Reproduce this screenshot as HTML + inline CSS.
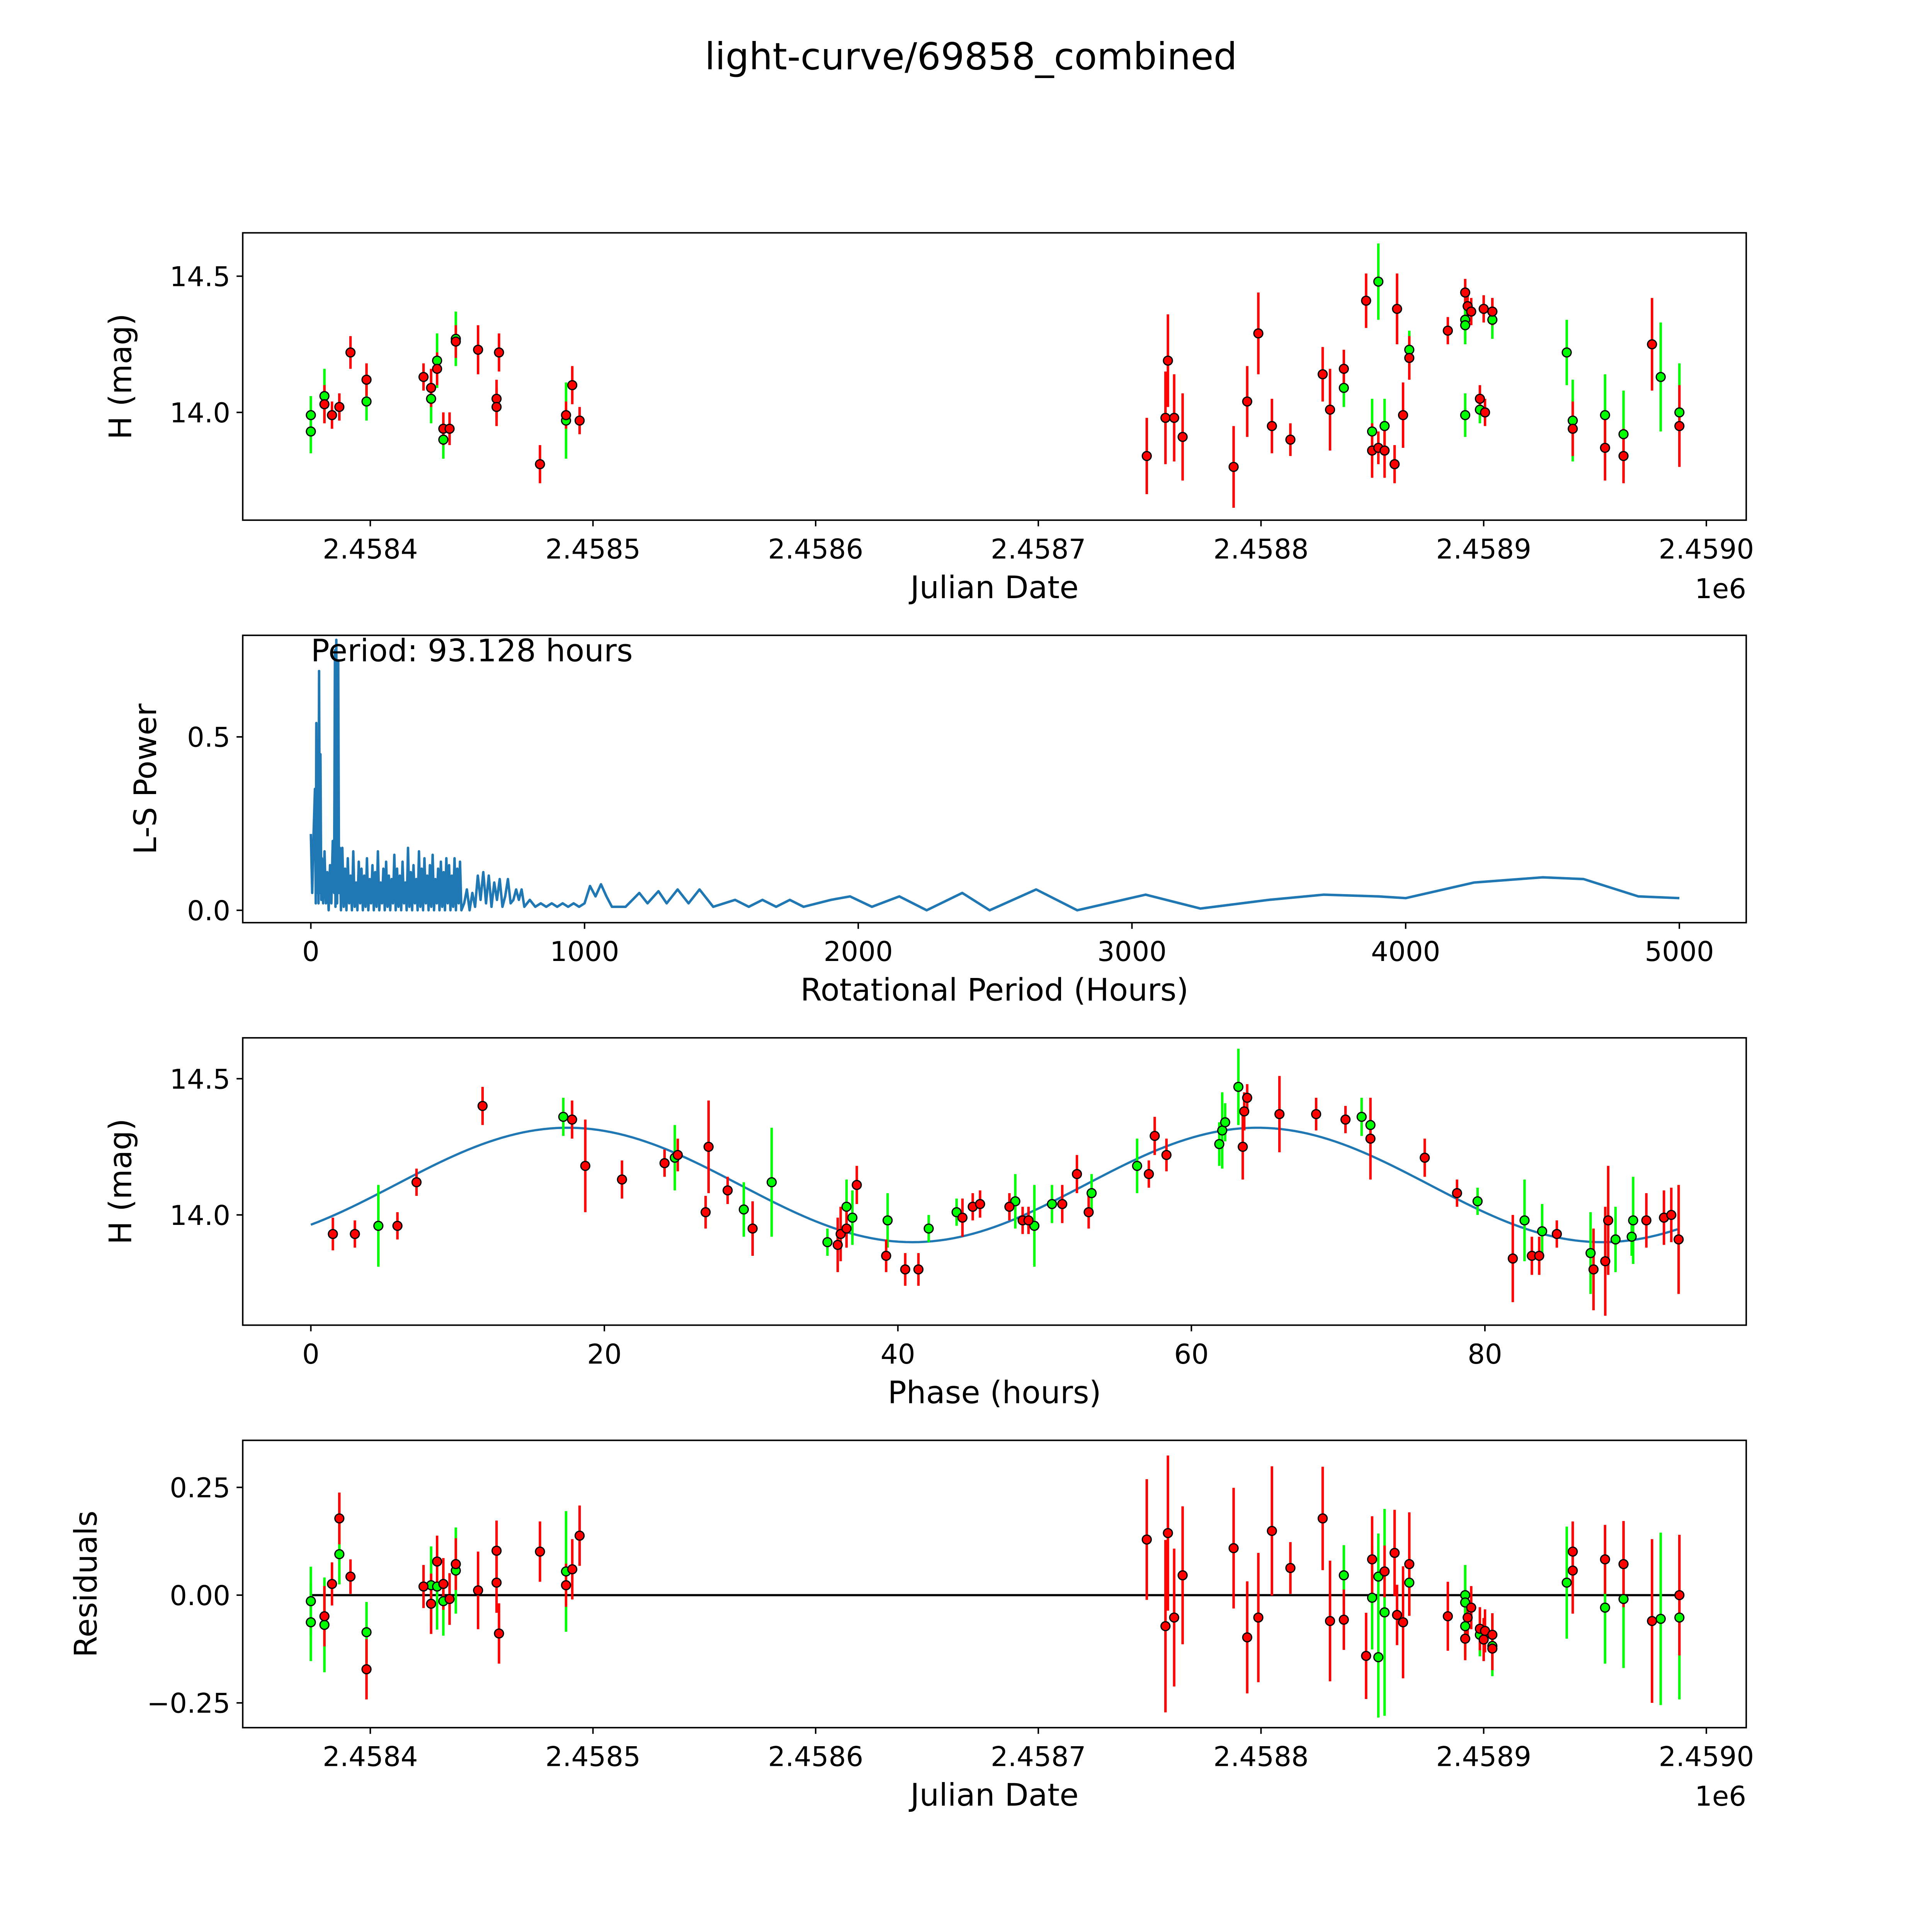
<!DOCTYPE html>
<html><head><meta charset="utf-8">
<style>
html,body{margin:0;padding:0;background:#fff;overflow:hidden;width:100%;height:100%;}
svg{display:block;width:100vw;height:100vh;}
text{font-family:"DejaVu Sans","Liberation Sans",sans-serif;fill:#000;}
</style></head>
<body>
<svg id="fig" xmlns="http://www.w3.org/2000/svg" viewBox="0 0 1560 1560" preserveAspectRatio="xMidYMid meet">
<rect width="1560" height="1560" fill="#fff"/>
<text x="784" y="56" font-size="30" text-anchor="middle">light-curve/69858_combined</text>
</svg>
<script>
// ---------- Panel 1: light curve ----------
const lcJd = [2458373.3,2458373.3,2458379.4,2458398.3,2458427.3,2458430.0,2458432.8,2458487.9,2458837.2,2458849.9,2458852.7,2458855.5,2458866.6,2458891.7,2458891.7,2458891.7,2458898.3,2458903.9,2458937.3,2458940.0,2458954.5,2458962.8,2458979.5,2458987.9,2458438.4,
2458379.4,2458382.8,2458386.1,2458391.1,2458398.3,2458423.9,2458427.3,2458430.0,2458432.8,2458435.6,2458438.4,2458448.4,2458456.7,2458456.7,2458457.8,2458476.2,2458487.9,2458490.7,2458494.0,2458748.7,2458757.1,2458758.2,2458761.0,2458764.8,2458787.7,2458793.8,2458798.8,2458804.9,2458813.2,2458827.7,2458831.0,2458837.2,2458847.2,2458849.9,2458852.7,2458855.5,2458860.0,2458861.1,2458863.8,2458866.6,2458883.9,2458891.7,2458892.8,2458894.4,2458898.3,2458900.0,2458900.6,2458903.9,2458903.9,2458940.0,2458954.5,2458962.8,2458975.6,2458987.9];
const lcMag = [13.99,13.93,14.06,14.04,14.05,14.19,13.90,13.97,14.09,13.93,14.48,13.95,14.23,14.34,14.32,13.99,14.01,14.34,14.22,13.97,13.99,13.92,14.13,14.00,14.27,
14.03,13.99,14.02,14.22,14.12,14.13,14.09,14.16,13.94,13.94,14.26,14.23,14.05,14.02,14.22,13.81,13.99,14.10,13.97,13.84,13.98,14.19,13.98,13.91,13.80,14.04,14.29,13.95,13.90,14.14,14.01,14.16,14.41,13.86,13.87,13.86,13.81,14.38,13.99,14.20,14.30,14.44,14.39,14.37,14.05,14.38,14.00,14.37,14.37,13.94,13.87,13.84,14.25,13.95];
const lcErr = [0.07,0.08,0.1,0.07,0.09,0.1,0.07,0.14,0.07,0.12,0.14,0.1,0.07,0.07,0.07,0.08,0.05,0.07,0.12,0.15,0.15,0.16,0.2,0.18,0.1,
0.07,0.05,0.05,0.06,0.06,0.05,0.07,0.06,0.06,0.06,0.06,0.09,0.07,0.07,0.07,0.07,0.05,0.07,0.05,0.14,0.17,0.17,0.16,0.16,0.15,0.13,0.15,0.1,0.06,0.1,0.15,0.07,0.1,0.1,0.06,0.1,0.07,0.13,0.12,0.08,0.05,0.05,0.05,0.05,0.05,0.05,0.05,0.05,0.05,0.1,0.12,0.1,0.17,0.15];
const lcColor = ['g','g','g','g','g','g','g','g','g','g','g','g','g','g','g','g','g','g','g','g','g','g','g','g','g',
'r','r','r','r','r','r','r','r','r','r','r','r','r','r','r','r','r','r','r','r','r','r','r','r','r','r','r','r','r','r','r','r','r','r','r','r','r','r','r','r','r','r','r','r','r','r','r','r','r','r','r','r','r','r'];
const jdTicks = [2458400,2458500,2458600,2458700,2458800,2458900,2459000];
const magTicks = [14.0,14.5];
// ---------- Panel 2: periodogram ----------
const lsPeriod = [0,5,10,15,18,20,23,25,28,30,33,35,38,40,45,50,55,60,65,70,75,80,85,88,90,93,96,100,103,106,
110,115,120,125,130,135,140,145,150,155,160,165,170,175,180,185,190,195,200,205,210,215,220,225,230,235,240,245,250,255,260,265,270,275,280,285,290,295,300,305,310,315,320,325,330,335,340,345,350,355,360,365,370,375,380,385,390,395,400,405,410,415,420,425,430,435,440,445,450,455,460,465,470,475,480,485,490,495,500,505,510,515,520,525,530,535,540,545,550,
560,570,580,590,600,610,620,630,640,650,660,670,680,690,700,710,720,730,740,750,760,770,780,790,800,820,840,860,880,900,920,940,960,980,1000,1020,1040,1060,1080,1100,1150,1200,1230,1270,1300,1340,1380,1420,1470,1550,1600,1650,1700,1750,1800,1900,1970,2050,2150,2250,2380,2480,2650,2800,3050,3250,3500,3700,3900,4000,4250,4500,4650,4850,5000];
const lsPower = [0.22,0.05,0.22,0.35,0.02,0.54,0.05,0.35,0.02,0.69,0.05,0.45,0.03,0.15,0.02,0.17,0.02,0.11,0.0,0.13,0.02,0.20,0.05,0.75,0.01,0.78,0.02,0.72,0.05,0.18,
0.0,0.18,0.01,0.12,0.0,0.15,0.02,0.10,0.0,0.17,0.01,0.08,0.0,0.14,0.02,0.12,0.0,0.10,0.01,0.15,0.0,0.09,0.02,0.13,0.0,0.11,0.01,0.17,0.0,0.08,0.02,0.12,0.0,0.14,0.01,0.10,0.0,0.09,0.02,0.16,0.0,0.12,0.01,0.10,0.0,0.14,0.02,0.08,0.0,0.18,0.01,0.11,0.0,0.13,0.02,0.09,0.0,0.17,0.01,0.12,0.0,0.15,0.02,0.10,0.0,0.13,0.01,0.16,0.0,0.09,0.02,0.12,0.0,0.14,0.01,0.11,0.0,0.15,0.02,0.13,0.0,0.10,0.01,0.15,0.0,0.12,0.02,0.14,0.0,
0.02,0.06,0.0,0.05,0.01,0.10,0.03,0.11,0.02,0.10,0.01,0.08,0.03,0.09,0.01,0.04,0.09,0.02,0.03,0.06,0.03,0.06,0.01,0.02,0.03,0.01,0.02,0.01,0.02,0.01,0.02,0.01,0.02,0.01,0.02,0.07,0.04,0.075,0.04,0.01,0.01,0.05,0.02,0.055,0.02,0.06,0.02,0.06,0.01,0.03,0.01,0.03,0.01,0.03,0.01,0.03,0.04,0.01,0.04,0.0,0.05,0.0,0.06,0.0,0.045,0.005,0.03,0.045,0.04,0.035,0.08,0.095,0.09,0.04,0.035];
const periodTicks = [0,1000,2000,3000,4000,5000];
const powerTicks = [0.0,0.5];
const periodLabel = "Period: 93.128 hours";
// ---------- Panel 3: phased ----------
const phPhase = [17.2,24.8,4.6,29.5,31.4,35.2,36.5,36.9,39.3,42.1,44.0,48.0,49.3,50.5,53.2,56.3,61.9,62.1,62.3,63.2,71.6,72.2,79.5,82.7,83.9,87.2,88.9,90.0,90.1,
1.5,3.0,5.9,7.2,11.7,17.8,18.7,21.2,24.1,25.0,26.9,27.1,28.4,30.1,35.9,36.1,36.5,37.2,39.2,40.5,41.4,44.4,45.1,45.6,47.6,48.5,48.9,51.2,52.2,53.0,57.1,57.5,58.3,63.5,63.6,63.8,66.0,68.5,70.5,72.2,75.9,78.1,81.9,83.2,83.7,84.9,87.4,88.2,88.4,91.0,92.2,92.7,93.2];
const phMag = [14.36,14.21,13.96,14.02,14.12,13.90,14.03,13.99,13.98,13.95,14.01,14.05,13.96,14.04,14.08,14.18,14.26,14.31,14.34,14.47,14.36,14.33,14.05,13.98,13.94,13.86,13.91,13.92,13.98,
13.93,13.93,13.96,14.12,14.40,14.35,14.18,14.13,14.19,14.22,14.01,14.25,14.09,13.95,13.89,13.93,13.95,14.11,13.85,13.80,13.80,13.99,14.03,14.04,14.03,13.98,13.98,14.04,14.15,14.01,14.15,14.29,14.22,14.25,14.38,14.43,14.37,14.37,14.35,14.28,14.21,14.08,13.84,13.85,13.85,13.93,13.80,13.83,13.98,13.98,13.99,14.00,13.91];
const phErr = [0.07,0.12,0.15,0.1,0.2,0.05,0.1,0.1,0.1,0.05,0.05,0.1,0.15,0.07,0.07,0.1,0.08,0.14,0.07,0.14,0.07,0.07,0.05,0.15,0.1,0.15,0.12,0.07,0.16,
0.06,0.05,0.05,0.05,0.07,0.07,0.17,0.07,0.05,0.06,0.06,0.17,0.05,0.1,0.1,0.1,0.07,0.07,0.06,0.06,0.06,0.07,0.05,0.05,0.05,0.05,0.05,0.07,0.07,0.06,0.05,0.07,0.06,0.12,0.07,0.05,0.14,0.06,0.05,0.15,0.07,0.05,0.16,0.07,0.07,0.05,0.15,0.2,0.2,0.1,0.1,0.1,0.2];
const phColor = ['g','g','g','g','g','g','g','g','g','g','g','g','g','g','g','g','g','g','g','g','g','g','g','g','g','g','g','g','g',
'r','r','r','r','r','r','r','r','r','r','r','r','r','r','r','r','r','r','r','r','r','r','r','r','r','r','r','r','r','r','r','r','r','r','r','r','r','r','r','r','r','r','r','r','r','r','r','r','r','r','r','r','r'];
const fitMean = 14.11, fitAmp = 0.21, fitPeak = 17.5, fitPeriod = 47.0;
const phaseTicks = [0,20,40,60,80];
// ---------- Panel 4: residuals ----------
const resJd = [2458373.3,2458373.3,2458379.4,2458386.1,2458398.3,2458427.3,2458430.0,2458432.8,2458438.4,2458487.9,2458837.2,2458849.9,2458852.7,2458852.7,2458855.5,2458866.6,2458891.7,2458891.7,2458891.7,2458898.3,2458903.9,2458937.3,2458954.5,2458962.8,2458979.5,2458987.9,
2458379.4,2458382.8,2458386.1,2458391.1,2458398.3,2458423.9,2458427.3,2458430.0,2458432.8,2458435.6,2458438.4,2458448.4,2458456.7,2458456.7,2458457.8,2458476.2,2458487.9,2458490.7,2458494.0,2458748.7,2458757.1,2458758.2,2458761.0,2458764.8,2458787.7,2458793.8,2458798.8,2458804.9,2458813.2,2458827.7,2458831.0,2458837.2,2458847.2,2458849.9,2458855.5,2458860.0,2458861.1,2458863.8,2458866.6,2458883.9,2458891.7,2458892.8,2458894.4,2458898.3,2458900.0,2458900.6,2458903.9,2458903.9,2458940.0,2458940.0,2458954.5,2458962.8,2458975.6,2458987.9];
const resVal = [-0.014,-0.063,-0.069,0.095,-0.086,0.023,0.020,-0.014,0.057,0.055,0.046,-0.006,-0.144,0.043,-0.040,0.029,0.0,-0.072,-0.017,-0.092,-0.118,0.029,-0.029,-0.009,-0.055,-0.052,
-0.049,0.026,0.178,0.043,-0.172,0.020,-0.020,0.078,0.026,-0.009,0.072,0.011,0.103,0.029,-0.089,0.101,0.023,0.060,0.138,0.129,-0.072,0.144,-0.052,0.046,0.109,-0.098,-0.052,0.149,0.063,0.178,-0.060,-0.057,-0.141,0.083,0.055,0.098,-0.046,-0.063,0.072,-0.049,-0.101,-0.052,-0.029,-0.078,-0.103,-0.083,-0.092,-0.124,0.101,0.057,0.083,0.072,-0.060,0.0];
const resErr = [0.08,0.09,0.11,0.07,0.07,0.09,0.1,0.08,0.1,0.14,0.07,0.12,0.14,0.1,0.24,0.07,0.07,0.07,0.08,0.05,0.07,0.13,0.13,0.16,0.2,0.19,
0.07,0.05,0.06,0.04,0.07,0.05,0.07,0.06,0.06,0.06,0.06,0.09,0.07,0.07,0.07,0.07,0.05,0.07,0.07,0.14,0.2,0.18,0.16,0.16,0.14,0.13,0.15,0.15,0.06,0.12,0.14,0.07,0.1,0.1,0.06,0.1,0.07,0.13,0.12,0.08,0.05,0.05,0.05,0.05,0.05,0.05,0.05,0.05,0.07,0.1,0.08,0.1,0.19,0.14];
const resColor = ['g','g','g','g','g','g','g','g','g','g','g','g','g','g','g','g','g','g','g','g','g','g','g','g','g','g',
'r','r','r','r','r','r','r','r','r','r','r','r','r','r','r','r','r','r','r','r','r','r','r','r','r','r','r','r','r','r','r','r','r','r','r','r','r','r','r','r','r','r','r','r','r','r','r','r','r','r','r','r','r','r'];
const resTicks = [-0.25,0.0,0.25];

// ---------- scales ----------
const jdX = v => 299 + (v - 2458400) * 1.798;
const p1Y = m => 333 - (m - 14) * 220;
const p2X = p => 251 + p * 0.221;
const p2Y = w => 735 - w * 280;
const p3X = ph => 251 + ph * 11.85;
const p3Y = m => 981 - (m - 14) * 220;
const p4Y = r => 1288 - r * 348;

const NS = 'http://www.w3.org/2000/svg';
const svg = document.getElementById('fig');
function mk(tag, attrs, parent) {
  const e = document.createElementNS(NS, tag);
  for (const k in attrs) e.setAttribute(k, attrs[k]);
  (parent || svg).appendChild(e);
  return e;
}
function txt(s, attrs, parent) { const t = mk('text', attrs, parent); t.textContent = s; return t; }

function axes(name, x0, y0, x1, y1, xt, xs, xfmt, yt, ys, yfmt, xlabel, ylabel, ylabX) {
  const g = mk('g', {});
  
  
  const fr = mk('rect', {x:x0, y:y0, width:x1-x0, height:y1-y0, fill:'none', stroke:'#000', 'stroke-width':1.2}, g);
  
  
  xt.forEach(v => {
    const x = xs(v);
    mk('line', {x1:x, x2:x, y1:y1, y2:y1+5, stroke:'#000', 'stroke-width':1.2}, g);
    const t = txt(xfmt(v), {x:x, y:y1+31, 'font-size':22, 'text-anchor':'middle'}, g);
    
    
  });
  yt.forEach(v => {
    const y = ys(v);
    mk('line', {x1:x0-5, x2:x0, y1:y, y2:y, stroke:'#000', 'stroke-width':1.2}, g);
    const t = txt(yfmt(v), {x:x0-10, y:y+8, 'font-size':22, 'text-anchor':'end'}, g);
    
    
  });
  const xl = txt(xlabel, {x:(x0+x1)/2, y:y1+63, 'font-size':25, 'text-anchor':'middle'}, g);
  
  
  const yl = txt(ylabel, {x:ylabX, y:(y0+y1)/2, 'font-size':25, 'text-anchor':'middle', transform:`rotate(-90 ${ylabX} ${(y0+y1)/2})`}, g);
  
  
  return g;
}
function points(name, xs, ys, xv, yv, ev, cv) {
  const g = mk('g', {});
  
  
  for (let i = 0; i < xv.length; i++) {
    const col = cv[i] === 'g' ? '#00ff00' : '#ff0000';
    const x = xs(xv[i]);
    const l = mk('line', {x1:x, x2:x, y1:ys(yv[i]-ev[i]), y2:ys(yv[i]+ev[i]), stroke:col, 'stroke-width':2}, g);
    
    
  }
  for (let i = 0; i < xv.length; i++) {
    const col = cv[i] === 'g' ? '#00ff00' : '#ff0000';
    const c = mk('circle', {cx:xs(xv[i]), cy:ys(yv[i]), r:3.6, fill:col, stroke:'#000', 'stroke-width':1}, g);
    
    
  }
}
const jdFmt = v => (v / 1e6).toFixed(4);

// Panel 1
axes('light-curve-axes', 196, 188, 1410, 420, jdTicks, jdX, jdFmt, magTicks, p1Y, v => v.toFixed(1), 'Julian Date', 'H (mag)', 106);
points('light-curve-points', jdX, p1Y, lcJd, lcMag, lcErr, lcColor);
const off1 = txt('1e6', {x:1410, y:483, 'font-size':22, 'text-anchor':'end'});



// Panel 2
axes('periodogram-axes', 196, 513, 1410, 745, periodTicks, p2X, v => String(v), powerTicks, p2Y, v => v.toFixed(1), 'Rotational Period (Hours)', 'L-S Power', 126);
const clip = mk('clipPath', {id:'c2'});
mk('rect', {x:196, y:513, width:1214, height:232}, clip);
let d = '';
lsPeriod.forEach((p, i) => { d += (i ? 'L' : 'M') + p2X(p).toFixed(2) + ',' + p2Y(lsPower[i]).toFixed(2); });
const ln = mk('path', {d:d, fill:'none', stroke:'#1f77b4', 'stroke-width':2, 'clip-path':'url(#c2)', 'stroke-linejoin':'round'});


const pl = txt(periodLabel, {x:251, y:534, 'font-size':25});



// Panel 3
axes('phased-axes', 196, 838, 1410, 1070, phaseTicks, p3X, v => String(v), magTicks, p3Y, v => v.toFixed(1), 'Phase (hours)', 'H (mag)', 106);
let fd = '';
for (let k = 0; k <= 200; k++) {
  const ph = 93.128 * k / 200;
  const m = fitMean + fitAmp * Math.cos(2 * Math.PI * (ph - fitPeak) / fitPeriod);
  fd += (k ? 'L' : 'M') + p3X(ph).toFixed(2) + ',' + p3Y(m).toFixed(2);
}
const fit = mk('path', {d:fd, fill:'none', stroke:'#1f77b4', 'stroke-width':1.8});


points('phased-points', p3X, p3Y, phPhase, phMag, phErr, phColor);

// Panel 4
axes('residuals-axes', 196, 1163, 1410, 1395, jdTicks, jdX, jdFmt, resTicks, p4Y, v => (v < 0 ? '\u2212' : '') + Math.abs(v).toFixed(2), 'Julian Date', 'Residuals', 78);
const zl = mk('line', {x1:jdX(2458373.3), x2:jdX(2458987.9), y1:p4Y(0), y2:p4Y(0), stroke:'#000', 'stroke-width':1.8});


points('residual-points', jdX, p4Y, resJd, resVal, resErr, resColor);
const off4 = txt('1e6', {x:1410, y:1458, 'font-size':22, 'text-anchor':'end'});


</script>
</body></html>
